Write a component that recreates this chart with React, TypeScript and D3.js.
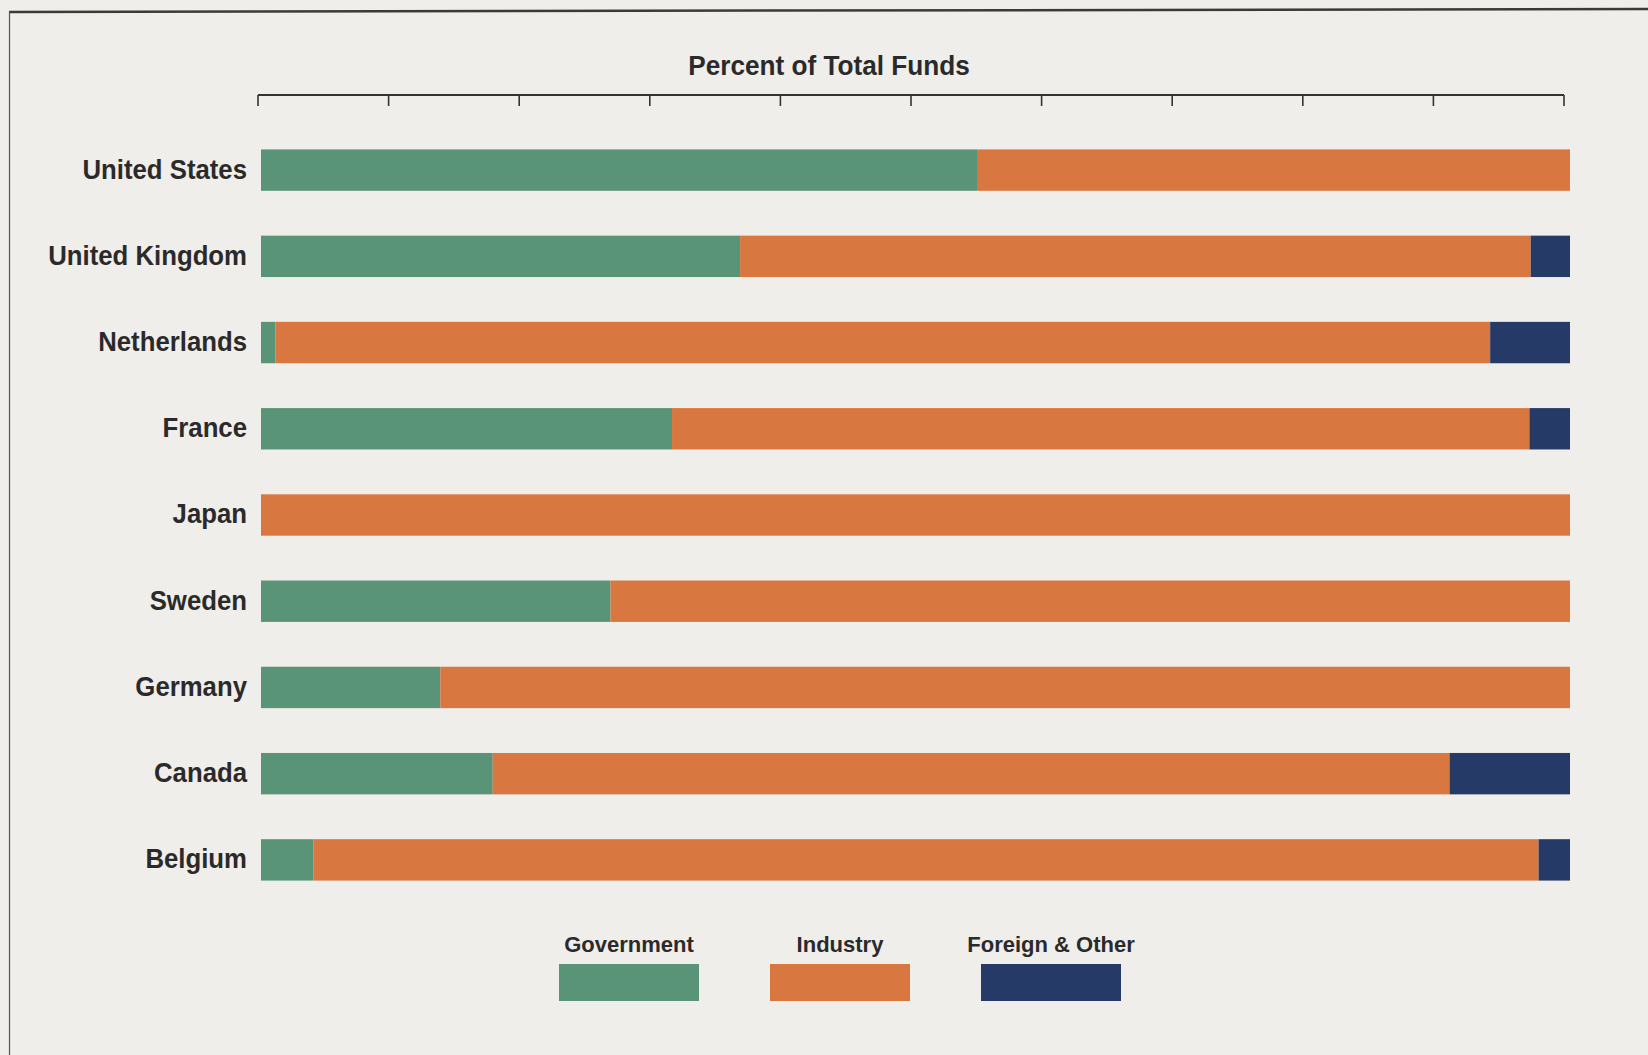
import React from "react";
import * as d3 from "d3";

const countries = ["United States", "United Kingdom", "Netherlands", "France", "Japan", "Sweden", "Germany", "Canada", "Belgium"];
const government = [54.7, 36.6, 1.1, 31.4, 0, 26.7, 13.7, 17.7, 4.0];
const industry = [45.3, 60.4, 92.8, 65.5, 100, 73.3, 86.3, 73.1, 93.6];
const foreignOther = [0, 3.0, 6.1, 3.1, 0, 0, 0, 9.2, 2.4];
const seriesNames = ["Government", "Industry", "Foreign & Other"];
const tickValues = [0, 10, 20, 30, 40, 50, 60, 70, 80, 90, 100];
const title = "Percent of Total Funds";

const W = 1648;
const H = 1055;
const COLORS = ["#5a9478", "#d8773f", "#263a68"];
const TEXT = "#2b2a2a";
const FONT = "'Liberation Sans', Arial, sans-serif";

export default function App() {
  const x = d3.scaleLinear().domain([0, 100]).range([258, 1564]);
  const xBar = d3.scaleLinear().domain([0, 100]).range([261, 1570]);
  const y = d3.scaleBand<string>().domain(countries).range([127, 903]).paddingInner(0.52).paddingOuter(0.26);

  const rows = countries.map((c, i) => ({ country: c, Government: government[i], Industry: industry[i], "Foreign & Other": foreignOther[i] }));
  const stacked = d3.stack<any>().keys(seriesNames)(rows);

  const legendX = d3.scalePoint<string>().domain(seriesNames).range([629, 1051]);
  const axisY = 95;

  return (
    <svg width={W} height={H} style={{ position: "absolute", left: 0, top: 0, display: "block" }} fontFamily={FONT}>
      <rect x={0} y={0} width={W} height={H} fill="#efeeeb" />
      {/* frame */}
      <line x1={9} y1={12} x2={W} y2={9} stroke="#3a3a3a" strokeWidth={2.5} />
      <line x1={9.5} y1={12} x2={9.5} y2={H} stroke="#555" strokeWidth={1.2} />

      <text transform={`translate(829,75) scale(0.97,1)`} textAnchor="middle" fontSize={27} fontWeight="bold" fill={TEXT}>{title}</text>

      {/* axis */}
      <line x1={x(0)} x2={x(100)} y1={axisY} y2={axisY} stroke="#333" strokeWidth={2.2} />
      {tickValues.map((t) => (
        <line key={t} x1={x(t)} x2={x(t)} y1={axisY} y2={axisY + 11} stroke="#333" strokeWidth={1.6} />
      ))}

      {/* bars */}
      {stacked.map((s, si) => (
        <g key={s.key} fill={COLORS[si]}>
          {s.map((d, i) => {
            const w = xBar(d[1]) - xBar(d[0]);
            if (w <= 0) return null;
            return <rect key={i} x={xBar(d[0])} y={y(countries[i])!} width={w} height={y.bandwidth()} />;
          })}
        </g>
      ))}

      {/* labels */}
      {countries.map((c) => (
        <text key={c} transform={`translate(247,${y(c)! + y.bandwidth() / 2}) scale(0.92,1)`} dy="0.3em" textAnchor="end" fontSize={28} fontWeight="bold" fill={TEXT}>{c}</text>
      ))}

      {/* legend */}
      {seriesNames.map((n, i) => (
        <g key={n}>
          <text x={legendX(n)!} y={952} textAnchor="middle" fontSize={22} fontWeight="bold" fill={TEXT}>{n}</text>
          <rect x={legendX(n)! - 70} y={964} width={140} height={37} fill={COLORS[i]} />
        </g>
      ))}
    </svg>
  );
}
